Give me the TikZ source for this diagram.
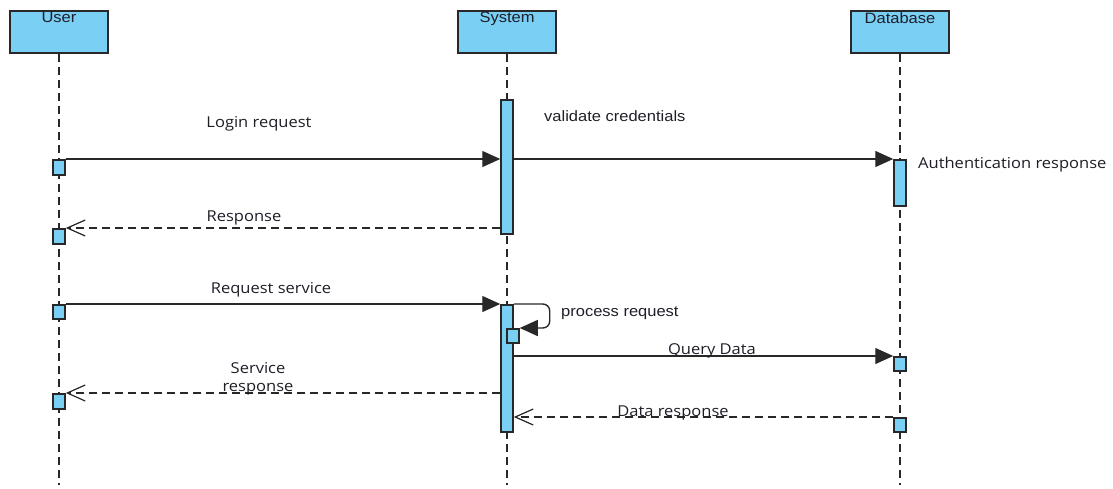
\documentclass[tikz,border=0pt]{standalone}
\usepackage{fontspec}
\setmainfont{Open Sans}[FakeStretch=1.1]
\newfontfamily\headfont{Liberation Sans}[FakeStretch=1.1]
\usetikzlibrary{arrows.meta}
\definecolor{lifefill}{RGB}{122,207,245}
\definecolor{edge}{RGB}{40,40,40}
\definecolor{ink}{RGB}{30,30,40}
\begin{document}
\begin{tikzpicture}[x=1pt,y=-1pt,
  headbox/.style={draw=edge,fill=lifefill,line width=1.5pt,minimum width=98pt,minimum height=42pt,inner sep=0pt},
  headtext/.style={font=\headfont\fontsize{15}{17}\selectfont,text=ink,anchor=north,inner sep=0pt},
  actbox/.style={draw=edge,fill=lifefill,line width=1.5pt,minimum width=12pt,inner sep=0pt,anchor=north},
  lifeline/.style={draw=edge,line width=1.3pt,dash pattern=on 8pt off 5pt},
  msg/.style={draw=edge,line width=1.4pt,-{Triangle[length=18pt,width=16pt]}},
  reply/.style={draw=edge,line width=1.2pt,dash pattern=on 8pt off 5pt,-{Straight Barb[length=18pt,width=16pt,line width=1.2pt]}},
  lbl/.style={font=\fontsize{15}{18}\selectfont,text=ink,inner sep=0pt},
  lblh/.style={font=\headfont\fontsize{15}{18}\selectfont,text=ink,inner sep=0pt}]
\useasboundingbox (0,0) rectangle (1113,488);

% lifelines
\coordinate (userEnd) at (59,485);
\coordinate (sysEnd) at (507,485);
\coordinate (dbEnd) at (900,485);
\node[headbox] (user) at (59,32) {};
\node[headbox] (sys) at (507,32) {};
\node[headbox] (db) at (900,32) {};
\node[headtext] at ([yshift=-2pt]user.north) {User};
\node[headtext] at ([yshift=-2pt]sys.north) {System};
\node[headtext] at ([yshift=-2pt]db.north) {Database};
\draw[lifeline] (user.south) -- (userEnd);
\draw[lifeline] (sys.south) -- (sysEnd);
\draw[lifeline] (db.south) -- (dbEnd);

% activation bars
\node[actbox,minimum height=134pt] (s1) at (507,99) {};
\node[actbox,minimum height=46pt] (d1) at (900,159) {};
\node[actbox,minimum height=15pt] (u1) at (59,159) {};
\node[actbox,minimum height=15pt] (u2) at (59,228) {};
\node[actbox,minimum height=14pt] (u3) at (59,304) {};
\node[actbox,minimum height=15pt] (u4) at (59,393) {};
\node[actbox,minimum height=127pt] (s2) at (507,304) {};
\node[actbox,minimum height=14pt] (s3) at (513,328) {};
\node[actbox,minimum height=14pt] (d2) at (900,356) {};
\node[actbox,minimum height=14pt] (d3) at (900,417) {};

% messages
\draw[msg] (u1.north east) -- (u1.north east -| s1.west);
\draw[msg] (u1.north east -| s1.east) -- (d1.north west);
\draw[reply] (u2.north east -| s1.west) -- (u2.north east);
\draw[msg] (u3.north east) -- (s2.north west);
\draw[msg,rounded corners=7pt] (s2.north east) -- ++(36,0) |- (s3.north east);
\draw[msg] (d2.north west -| s2.east) -- (d2.north west);
\draw[reply] (d3.north west) -- (d3.north west -| s2.east);
\draw[reply] (u4.north east -| s2.west) -- (u4.north east);

% labels
\node[lbl] (l1) at (259,124) {Login request};
\node[lblh,anchor=west] (l2) at (544,116) {validate credentials};
\node[lbl,anchor=west] (l3) at (918,165) {Authentication response};
\node[lbl] (l4) at (244,218) {Response};
\node[lbl] (l5) at (271,290) {Request service};
\node[lblh,anchor=west] (l6) at (561,313) {process request};
\node[lbl] (l7) at (712,351) {Query Data};
\node[lbl,align=center,font=\fontsize{15}{18}\selectfont] (l8) at (258,379) {Service\\response};
\node[lbl] (l9) at (673,413) {Data response};
\end{tikzpicture}
\end{document}
